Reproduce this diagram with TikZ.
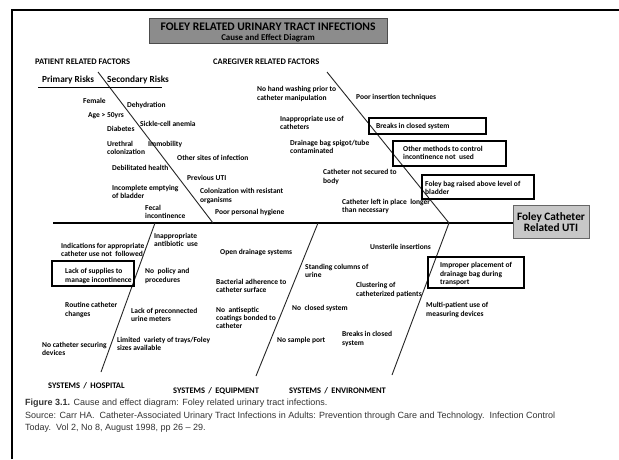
\documentclass[tikz,border=0pt]{standalone}
\usepackage{fontspec}
\setmainfont{Carlito}
\newfontfamily\capfont{Liberation Sans}

\def\dY{223}

\begin{document}
\begin{tikzpicture}[x=1pt, y=-1pt,
    cause/.style={anchor=west, inner sep=0pt, align=left, font=\fontsize{7.5}{8.2}\selectfont\bfseries},
    group/.style={anchor=west, inner sep=0pt, font=\fontsize{8.5}{9}\selectfont\bfseries},
    bone/.style={draw=black!85, line width=0.9pt},
    keybox/.style={draw=black, line width=1.8pt}]

  \clip (0,0) rectangle (619,459);
  \fill[white] (0,0) rectangle (619,459);

  %% frame
  \coordinate (F1) at ( 12,459);
  \coordinate (F2) at ( 12, 10);
  \coordinate (F3) at (619, 10);
  \draw[line width=2pt] (F1) -- (F2) -- (F3);

  %% title and effect
  \node[draw=black!70, fill=black!45, line width=1pt, minimum width=238pt, minimum height=25pt,
        inner sep=0pt] (T) at (268,30.5) {};
  \node[inner sep=0pt, font=\fontsize{11.6}{12}\selectfont\bfseries] (T1) at (268,27)
        {FOLEY RELATED URINARY TRACT INFECTIONS};
  \node[inner sep=0pt, font=\fontsize{8.9}{9}\selectfont\bfseries] (T2) at (268,38.5)
        {Cause and Effect Diagram};
  \node[draw=black!60, fill=black!22, line width=1pt, minimum width=76pt, minimum height=33pt,
        align=center, inner sep=0pt, font=\fontsize{11.3}{11}\selectfont\bfseries] (E) at (551,222)
        {Foley Catheter\\Related UTI};

  %%   (lable)  (x, y)
  \coordinate (S0) at ( 53,\dY);
  \coordinate (PT) at ( 98, 72);  \coordinate (PB) at (213,\dY);
  \coordinate (CT) at (327, 72);  \coordinate (CB) at (449,\dY);
  \coordinate (HT) at (155,\dY);  \coordinate (HB) at (101,372);
  \coordinate (QT) at (318,\dY);  \coordinate (QB) at (256,376);
  \coordinate (VT) at (449,\dY);  \coordinate (VB) at (392,375);
  \coordinate (UL) at ( 38, 87);  \coordinate (UR) at (162, 87);

  \draw[line width=2.3pt] (S0) -- (S0 -| E.west);
  \draw[bone] (PT) -- (PB);
  \draw[bone] (CT) -- (CB);
  \draw[bone] (HT) -- (HB);
  \draw[bone] (QT) -- (QB);
  \draw[bone] (VT) -- (VB);
  \draw[line width=0.9pt] (UL) -- (UR);

  %% group headings
  \node[group] (GP) at ( 35, 62) {PATIENT RELATED FACTORS};
  \node[group] (GC) at (213, 62) {CAREGIVER RELATED FACTORS};
  \node[group, font=\fontsize{9.3}{10}\selectfont\bfseries] (GR1) at ( 42, 80) {Primary Risks};
  \node[group, font=\fontsize{9.3}{10}\selectfont\bfseries] (GR2) at (107, 80) {Secondary Risks};
  \node[group] (GH) at ( 48,386) {SYSTEMS\, /\, HOSPITAL};
  \node[group] (GQ) at (173,391) {SYSTEMS\, /\, EQUIPMENT};
  \node[group] (GV) at (289,391) {SYSTEMS\, /\, ENVIRONMENT};

  %% patient
  \node[cause] (P1)  at ( 83,101) {Female};
  \node[cause] (P2)  at (127,105) {Dehydration};
  \node[cause] (P3)  at ( 88,116) {Age > 50yrs};
  \node[cause] (P4)  at (107,129) {Diabetes};
  \node[cause] (P5)  at (140,124) {Sickle-cell anemia};
  \node[cause] (P6)  at (107,148) {Urethral\\colonization};
  \node[cause] (P7)  at (148,144) {Immobility};
  \node[cause] (P8)  at (177,158) {Other sites of infection};
  \node[cause] (P9)  at (112,168) {Debilitated health};
  \node[cause] (P10) at (187,178) {Previous UTI};
  \node[cause] (P11) at (112,191.5) {Incomplete emptying\\of bladder};
  \node[cause] (P12) at (200,196) {Colonization with resistant\\organisms};
  \node[cause] (P13) at (145,211.5) {Fecal\\incontinence};
  \node[cause] (P14) at (215,212) {Poor personal hygiene};

  %% caregiver
  \node[cause] (C1) at (257, 94) {No hand washing prior to\\catheter manipulation};
  \node[cause] (C2) at (356, 97) {Poor insertion techniques};
  \node[cause] (C3) at (280,123) {Inappropriate use of\\catheters};
  \node[cause] (C4) at (290,147) {Drainage bag spigot/tube\\contaminated};
  \node[cause] (C5) at (323,177) {Catheter not secured to\\body};
  \node[cause] (C6) at (342,206.5) {Catheter left in place\ \ longer\\than necessary};
  \draw[keybox] (369,118) rectangle (486,134);
  \node[cause] (C7) at (376,126) {Breaks in closed system};
  \draw[keybox] (393,141) rectangle (506,166);
  \node[cause] (C8) at (403,152.5) {Other methods to control\\incontinence not\ \ used};
  \draw[keybox] (422,175) rectangle (534,199);
  \node[cause] (C9) at (425,187.5) {Foley bag raised above level of\\bladder};

  %% hospital
  \node[cause] (H1) at ( 61,250) {Indications for appropriate\\catheter use not\ \ followed};
  \node[cause] (H2) at (154,240) {Inappropriate\\antibiotic\ \ use};
  \draw[keybox] (52,261) rectangle (134,286);
  \node[cause] (H3) at ( 65,276) {Lack of supplies to\\manage incontinence};
  \node[cause] (H4) at (145,276) {No\ \ policy and\\procedures};
  \node[cause] (H5) at ( 65,310) {Routine catheter\\changes};
  \node[cause] (H6) at (131,315) {Lack of preconnected\\urine meters};
  \node[cause] (H7) at ( 42,349) {No catheter securing\\devices};
  \node[cause] (H8) at (117,343.5) {Limited\ \ variety of trays/Foley\\sizes available};

  %% equipment
  \node[cause] (Q1) at (220,252) {Open drainage systems};
  \node[cause] (Q2) at (305,270.5) {Standing columns of\\urine};
  \node[cause] (Q3) at (216,286) {Bacterial adherence to\\catheter surface};
  \node[cause] (Q4) at (216,318) {No\ \ antiseptic\\coatings bonded to\\catheter};
  \node[cause] (Q5) at (292,308) {No\ \ closed system};
  \node[cause] (Q6) at (277,340) {No sample port};
  \node[cause] (Q7) at (342,339) {Breaks in closed\\system};
  \node[cause] (Q8) at (356,290) {Clustering of\\catheterized patients};

  %% environment
  \node[cause] (V1) at (370,247) {Unsterile insertions};
  \draw[keybox] (428,257) rectangle (524,288);
  \node[cause] (V2) at (440,274) {Improper placement of\\drainage bag during\\transport};
  \node[cause] (V3) at (426,310) {Multi-patient use of\\measuring devices};

  %% caption
  \node[anchor=north west, inner sep=0pt, align=left, text=black!80,
        font=\capfont\fontsize{9}{12.5}\selectfont] (CAP) at (25,399)
        {\textbf{Figure 3.1.} Cause and effect diagram: Foley related urinary tract infections.\\
         Source: Carr HA.\ \ Catheter-Associated Urinary Tract Infections in Adults: Prevention through Care and Technology.\ \ Infection Control\\
         Today.\ \ Vol 2, No 8, August 1998, pp 26 – 29.};

\end{tikzpicture}
\end{document}
